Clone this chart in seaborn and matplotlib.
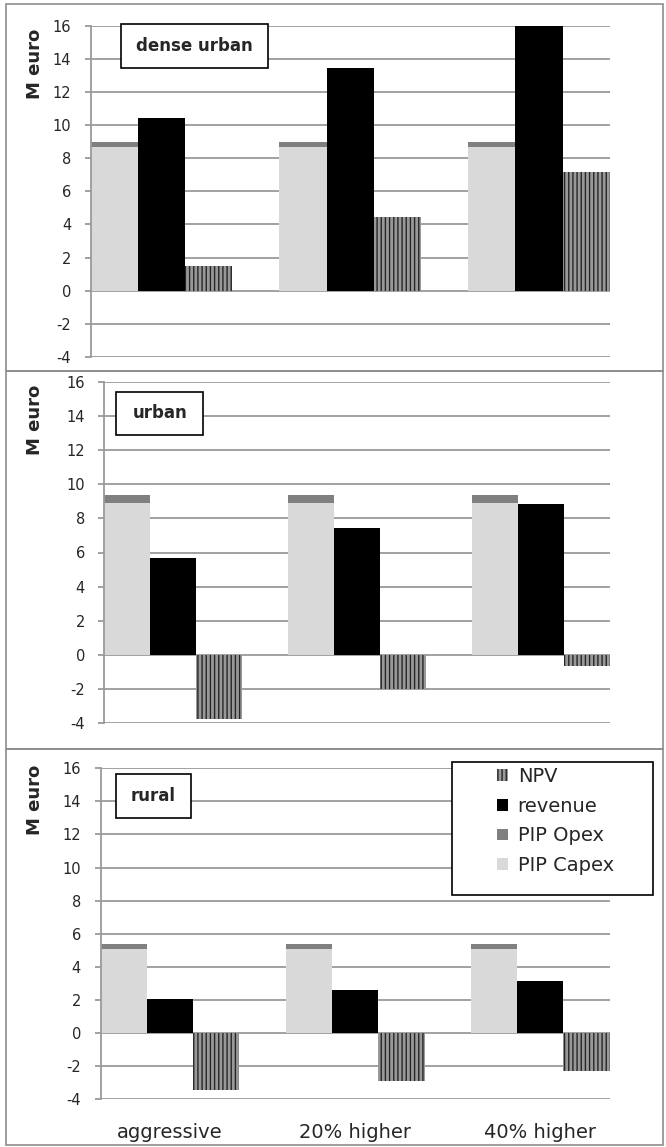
import numpy as np
import pandas as pd
import matplotlib
matplotlib.use("Agg")
import matplotlib.pyplot as plt
import seaborn as sns
from matplotlib.patches import Rectangle, Patch

# ---------------- data ----------------
scenarios = ["aggressive", "20% higher", "40% higher"]
panel_titles = ["dense urban", "urban", "rural"]

capex_dense = [8.65, 8.65, 8.65]
opex_dense = [0.30, 0.30, 0.30]
revenue_dense = [10.45, 13.45, 16.10]
npv_dense = [1.50, 4.45, 7.17]

capex_urban = [8.93, 8.93, 8.93]
opex_urban = [0.45, 0.45, 0.45]
revenue_urban = [5.68, 7.46, 8.85]
npv_urban = [-3.75, -2.03, -0.63]

capex_rural = [5.08, 5.08, 5.08]
opex_rural = [0.28, 0.28, 0.28]
revenue_rural = [2.04, 2.58, 3.12]
npv_rural = [-3.45, -2.90, -2.30]

y_ticks = [-4, -2, 0, 2, 4, 6, 8, 10, 12, 14, 16]
legend_labels = ["NPV", "revenue", "PIP Opex", "PIP Capex"]

# ---------------- style ----------------
sns.set_style("white")
plt.rcParams["font.family"] = ["DejaVu Sans"]
plt.rcParams["hatch.linewidth"] = 1.0

W, H = 666, 1147
fig = plt.figure(figsize=(W / 100, H / 100), dpi=100)

C_CAPEX = "#d9d9d9"
C_OPEX = "#808080"
C_REV = "#000000"
C_NPV = "#999999"
C_HATCH = "#262626"
C_GRID = "#9a9a9a"

# axes boxes in pixels: (left, right, top(16), bottom(-4))
axes_px = [
    (90.7, 609.7, 25.7, 357.0),
    (104.5, 609.7, 382.0, 723.0),
    (100.5, 609.7, 768.3, 1099.3),
]
panel_px = [(6, 663, 4, 371), (6, 663, 371, 749), (6, 663, 749, 1145)]
label_box_px = [(120.7, 268, 24, 67.7), (116.4, 203, 391.7, 435), (116.4, 190.7, 774, 817.7)]
ylabel_y = [64, 420, 800]

panels = [
    (capex_dense, opex_dense, revenue_dense, npv_dense),
    (capex_urban, opex_urban, revenue_urban, npv_urban),
    (capex_rural, opex_rural, revenue_rural, npv_rural),
]


def fx(x):
    return x / W


def fy(y):
    return 1 - y / H


for k, (cap, opx, rev, npv) in enumerate(panels):
    l, r, t, b = axes_px[k]
    ax = fig.add_axes([fx(l), fy(b), (r - l) / W, (b - t) / H])

    df = pd.DataFrame({
        "scenario": scenarios * 3,
        "series": ["PIP Capex"] * 3 + ["revenue"] * 3 + ["NPV"] * 3,
        "value": list(cap) + list(rev) + list(npv),
    })
    sns.barplot(data=df, x="scenario", y="value", hue="series",
                hue_order=["PIP Capex", "revenue", "NPV"],
                palette={"PIP Capex": C_CAPEX, "revenue": C_REV, "NPV": C_NPV},
                order=scenarios, width=0.75, dodge=True, saturation=1,
                errorbar=None, linewidth=0, legend=False, ax=ax)

    # stacked opex on top of capex
    for i, p in enumerate(ax.containers[0]):
        ax.bar(p.get_x() + p.get_width() / 2, opx[i], width=p.get_width(),
               bottom=cap[i], color=C_OPEX, linewidth=0, zorder=p.get_zorder())
    # hatched NPV
    for p in ax.containers[2]:
        p.set_facecolor(C_NPV)
        p.set_edgecolor(C_HATCH)
        if hasattr(p, "set_hatchcolor"):
            p.set_hatchcolor(C_HATCH)
        p.set_hatch("||||")
        p.set_linewidth(0)

    ax.set_xlim(-0.375, 2.375)
    ax.set_ylim(-4, 16)
    ax.set_yticks(y_ticks)
    ax.set_yticklabels([str(v) for v in y_ticks], fontsize=10.5)
    ax.set_axisbelow(True)
    ax.yaxis.grid(True, color=C_GRID, linewidth=1.3)
    ax.xaxis.grid(False)
    for s in ["top", "right", "bottom"]:
        ax.spines[s].set_visible(False)
    ax.spines["left"].set_color(C_GRID)
    ax.spines["left"].set_linewidth(1.3)
    ax.tick_params(axis="y", length=4, width=1.3, color=C_GRID, pad=10, left=True)
    ax.set_xlabel("")
    ax.set_ylabel("")
    if k == 2:
        ax.set_xticks(range(len(scenarios)))
        ax.set_xticklabels(scenarios, fontsize=14)
        ax.tick_params(axis="x", length=0, pad=17)
    else:
        ax.set_xticks([])

    # panel border
    pl, pr, pt, pb = panel_px[k]
    fig.patches.append(Rectangle((fx(pl), fy(pb)), (pr - pl) / W, (pb - pt) / H,
                                 transform=fig.transFigure, fill=False,
                                 edgecolor="#8c8c8c", linewidth=1.2, zorder=0))
    # panel title box
    bl, br, bt, bb = label_box_px[k]
    fig.patches.append(Rectangle((fx(bl), fy(bb)), (br - bl) / W, (bb - bt) / H,
                                 transform=fig.transFigure, facecolor="white",
                                 edgecolor="black", linewidth=1.2, zorder=4))
    fig.text(fx((bl + br) / 2), fy((bt + bb) / 2), panel_titles[k],
             fontsize=12, fontweight="bold", ha="center", va="center", zorder=5)

    # y label
    fig.text(fx(35), fy(ylabel_y[k]), "M euro", rotation=90, fontsize=13,
             fontweight="bold", ha="center", va="center")

# legend
fig.patches.append(Rectangle((fx(452.3), fy(895)), (653 - 452.3) / W, (895 - 762.3) / H,
                             transform=fig.transFigure, facecolor="white",
                             edgecolor="black", linewidth=1.2, zorder=4))
handles = [
    Patch(facecolor=C_NPV, edgecolor=C_HATCH, hatch="||||", linewidth=0),
    Patch(facecolor=C_REV, linewidth=0),
    Patch(facecolor=C_OPEX, linewidth=0),
    Patch(facecolor=C_CAPEX, linewidth=0),
]
fs_px = 14 * 100 / 72
leg = fig.legend(handles, legend_labels, loc="upper left",
                 bbox_to_anchor=(fx(496.7), fy(767)), frameon=False,
                 borderpad=0, borderaxespad=0, fontsize=14,
                 handlelength=11 / fs_px, handleheight=11 / fs_px,
                 handletextpad=10 / fs_px, labelspacing=0.55)
leg.set_zorder(6)

fig.savefig("out.png", dpi=100)
